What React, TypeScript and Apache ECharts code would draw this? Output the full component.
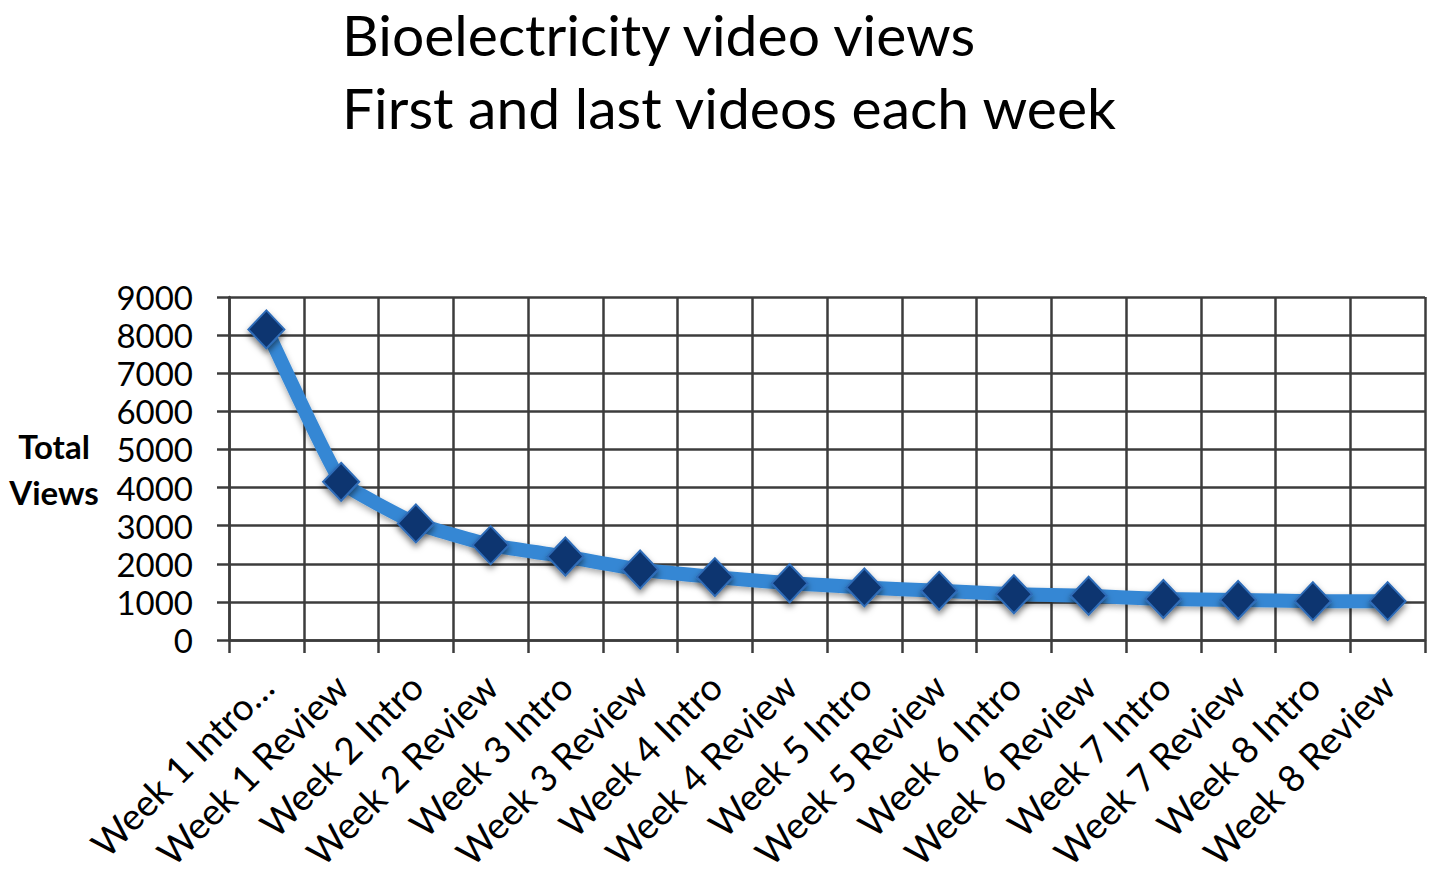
import React, { useEffect, useRef } from "react";
import * as echarts from "echarts";

const categories = [
  "Week 1 Intro…",
  "Week 1 Review",
  "Week 2 Intro",
  "Week 2 Review",
  "Week 3 Intro",
  "Week 3 Review",
  "Week 4 Intro",
  "Week 4 Review",
  "Week 5 Intro",
  "Week 5 Review",
  "Week 6 Intro",
  "Week 6 Review",
  "Week 7 Intro",
  "Week 7 Review",
  "Week 8 Intro",
  "Week 8 Review",
];

const totalViews = [
  8150, 4150, 3060, 2490, 2190, 1850, 1650, 1490, 1380, 1290, 1200, 1160, 1075,
  1050, 1020, 1020,
];

const titleLines = ["Bioelectricity video views", "First and last videos each week"];
const yAxisName = "Total\nViews";

const FONT = "Lato, 'Noto Sans', sans-serif";
const GRID_COLOR = "#3c3c3c";

export default function App() {
  const ref = useRef<HTMLDivElement>(null);

  useEffect(() => {
    if (!ref.current) return;
    const chart = echarts.init(ref.current, undefined, { renderer: "svg" });
    chart.setOption({
      animation: false,
      backgroundColor: "#ffffff",
      title: {
        text: titleLines.join("\n"),
        left: 337,
        top: -8,
        textStyle: {
          fontFamily: FONT,
          fontSize: 57,
          fontWeight: "normal",
          color: "#000000",
          lineHeight: 73,
        },
      },
      grid: {
        left: 229,
        right: 9,
        top: 297,
        bottom: 244,
        containLabel: false,
      },
      xAxis: {
        type: "category",
        data: categories,
        boundaryGap: true,
        axisLine: { show: true, lineStyle: { color: GRID_COLOR, width: 2.5 } },
        axisTick: {
          show: true,
          length: 13,
          interval: 0,
          lineStyle: { color: GRID_COLOR, width: 2.5 },
        },
        splitLine: {
          show: true,
          interval: 0,
          lineStyle: { color: GRID_COLOR, width: 2.5 },
        },
        axisLabel: {
          interval: 0,
          rotate: 45,
          margin: 40,
          fontFamily: FONT,
          fontSize: 37,
          color: "#000000",
        },
      },
      yAxis: {
        type: "value",
        min: 0,
        max: 9000,
        interval: 1000,
        name: yAxisName,
        nameLocation: "middle",
        nameRotate: 0,
        nameGap: 175,
        nameTextStyle: {
          fontFamily: FONT,
          fontSize: 33,
          fontWeight: "bold",
          color: "#000000",
          align: "center",
          verticalAlign: "middle",
          lineHeight: 46,
        },
        axisLine: { show: true, lineStyle: { color: GRID_COLOR, width: 2.5 } },
        axisTick: { show: true, length: 12, lineStyle: { color: GRID_COLOR, width: 2.5 } },
        splitLine: { show: true, lineStyle: { color: GRID_COLOR, width: 2.5 } },
        axisLabel: {
          margin: 36,
          fontFamily: FONT,
          fontSize: 33,
          color: "#000000",
          formatter: (v: number) => String(v),
        },
      },
      series: [
        {
          type: "line",
          data: totalViews,
          smooth: 0.1,
          symbol: "diamond",
          symbolSize: [36, 38],
          lineStyle: {
            color: "#3687d4",
            width: 14,
            shadowColor: "rgba(0,0,0,0.35)",
            shadowBlur: 6,
            shadowOffsetY: 3,
          },
          itemStyle: {
            color: "#0d3570",
            borderColor: "#2f6cb8",
            borderWidth: 2,
            shadowColor: "rgba(0,0,0,0.5)",
            shadowBlur: 6,
            shadowOffsetY: 4,
          },
          z: 5,
        },
      ],
    });
    return () => chart.dispose();
  }, []);

  return (
    <div
      ref={ref}
      style={{ position: "fixed", left: 0, top: 0, width: 1434, height: 884 }}
    />
  );
}
